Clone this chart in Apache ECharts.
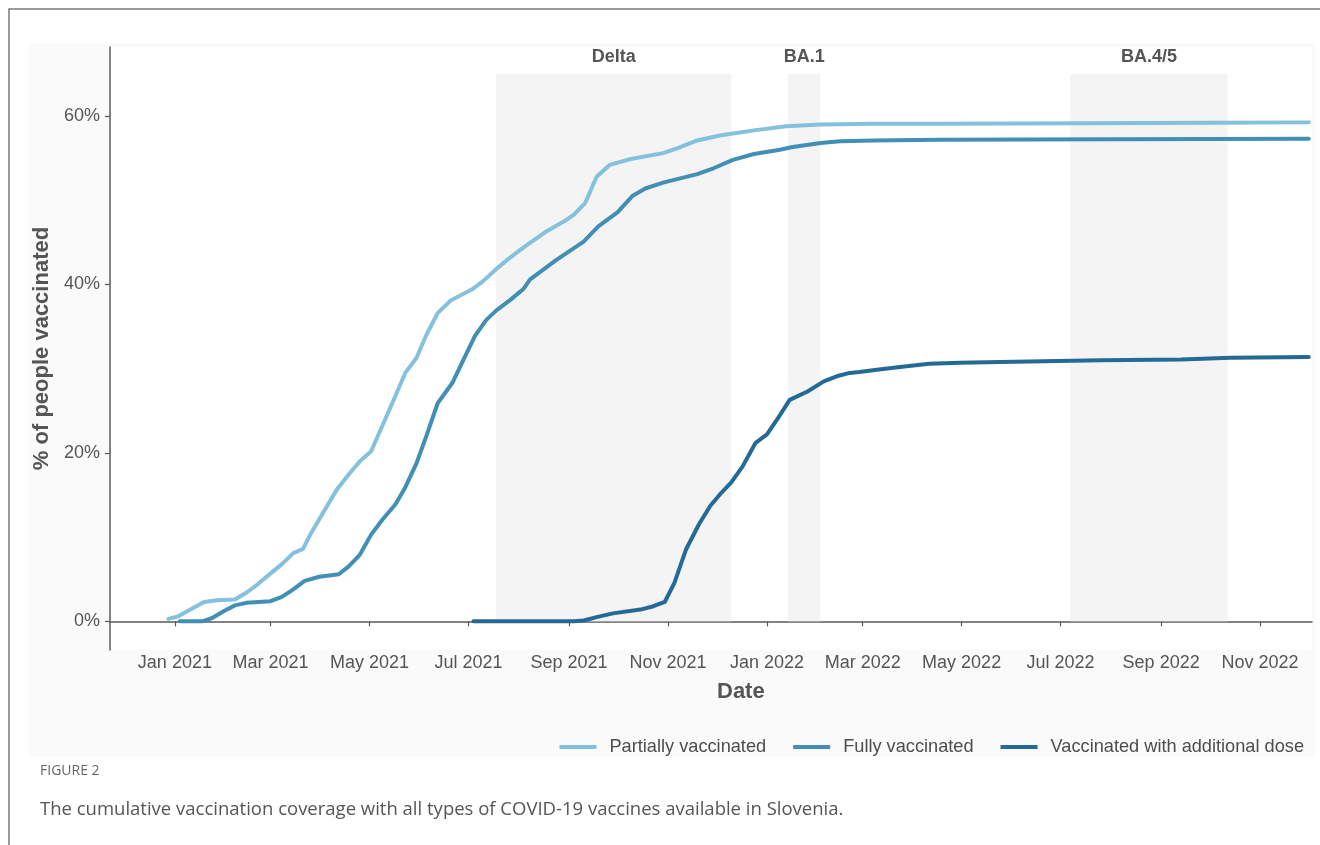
<!DOCTYPE html>
<html>
<head>
<meta charset="utf-8">
<script src="https://cdn.jsdelivr.net/npm/echarts@6/dist/echarts.min.js"></script>
<style>
  html, body { margin: 0; padding: 0; background: #fff; }
  #container { width: 1320px; height: 845px; }
</style>
</head>
<body>
<div id="container"></div>
<script>
// values (% of population)
var partially = [
  ['2020-12-28', 0.3], ['2021-01-03', 0.6], ['2021-01-19', 2.3], ['2021-01-27', 2.5],
  ['2021-02-07', 2.6], ['2021-02-14', 3.4], ['2021-02-21', 4.4], ['2021-03-01', 5.7],
  ['2021-03-08', 6.8], ['2021-03-15', 8.1], ['2021-03-21', 8.6], ['2021-03-26', 10.5],
  ['2021-04-03', 13.1], ['2021-04-11', 15.7], ['2021-04-18', 17.4], ['2021-04-25', 19.0],
  ['2021-05-02', 20.2], ['2021-05-07', 22.4], ['2021-05-15', 25.9], ['2021-05-23', 29.5],
  ['2021-05-30', 31.3], ['2021-06-05', 34.0], ['2021-06-12', 36.6], ['2021-06-20', 38.1],
  ['2021-07-03', 39.4], ['2021-07-10', 40.4], ['2021-07-18', 41.8], ['2021-07-26', 43.1],
  ['2021-08-04', 44.4], ['2021-08-18', 46.3], ['2021-08-29', 47.5], ['2021-09-04', 48.3],
  ['2021-09-11', 49.7], ['2021-09-18', 52.8], ['2021-09-26', 54.2], ['2021-10-09', 54.9],
  ['2021-10-29', 55.6], ['2021-11-07', 56.2], ['2021-11-19', 57.1], ['2021-12-03', 57.7],
  ['2021-12-24', 58.3], ['2022-01-13', 58.8], ['2022-02-03', 59.0], ['2022-03-08', 59.1],
  ['2022-04-18', 59.1], ['2022-07-15', 59.15], ['2022-10-01', 59.2], ['2022-12-01', 59.25]
];
var fully = [
  ['2021-01-04', 0], ['2021-01-18', 0], ['2021-01-24', 0.4], ['2021-01-31', 1.2],
  ['2021-02-07', 1.9], ['2021-02-14', 2.2], ['2021-03-01', 2.4], ['2021-03-08', 2.9],
  ['2021-03-15', 3.8], ['2021-03-22', 4.8], ['2021-03-31', 5.3], ['2021-04-12', 5.6],
  ['2021-04-18', 6.5], ['2021-04-25', 7.9], ['2021-05-02', 10.3], ['2021-05-09', 12.1],
  ['2021-05-17', 13.9], ['2021-05-23', 15.9], ['2021-05-30', 18.8], ['2021-06-05', 22.0],
  ['2021-06-12', 25.9], ['2021-06-21', 28.3], ['2021-06-28', 31.1], ['2021-07-05', 33.9],
  ['2021-07-12', 35.8], ['2021-07-18', 36.9], ['2021-07-27', 38.2], ['2021-08-04', 39.5],
  ['2021-08-08', 40.6], ['2021-08-24', 42.9], ['2021-09-10', 45.1], ['2021-09-19', 46.9],
  ['2021-10-01', 48.6], ['2021-10-10', 50.5], ['2021-10-18', 51.4], ['2021-10-29', 52.1],
  ['2021-11-19', 53.1], ['2021-11-29', 53.8], ['2021-12-11', 54.8], ['2021-12-24', 55.5],
  ['2022-01-09', 56.0], ['2022-01-16', 56.3], ['2022-02-03', 56.8], ['2022-02-15', 57.0],
  ['2022-03-08', 57.1], ['2022-04-18', 57.2], ['2022-08-01', 57.25], ['2022-12-01', 57.3]
];
var additional = [
  ['2021-07-04', 0], ['2021-09-04', 0], ['2021-09-10', 0.1], ['2021-09-18', 0.5],
  ['2021-09-28', 0.95], ['2021-10-15', 1.4], ['2021-10-23', 1.8], ['2021-10-30', 2.3],
  ['2021-11-05', 4.6], ['2021-11-12', 8.5], ['2021-11-20', 11.5], ['2021-11-27', 13.7],
  ['2021-12-04', 15.3], ['2021-12-10', 16.5], ['2021-12-17', 18.4], ['2021-12-25', 21.2],
  ['2022-01-01', 22.2], ['2022-01-08', 24.2], ['2022-01-15', 26.3], ['2022-01-26', 27.3],
  ['2022-02-05', 28.5], ['2022-02-13', 29.1], ['2022-02-21', 29.5], ['2022-02-27', 29.6],
  ['2022-03-11', 29.9], ['2022-03-24', 30.2], ['2022-04-11', 30.6], ['2022-04-30', 30.7],
  ['2022-05-25', 30.8], ['2022-07-26', 31.0], ['2022-09-13', 31.1], ['2022-10-14', 31.3],
  ['2022-12-01', 31.4]
];

// variant periods
var variants = [
  { name: 'Delta', start: '2021-07-18', end: '2021-12-10' },
  { name: 'BA.1', start: '2022-01-14', end: '2022-02-03' },
  { name: 'BA.4/5', start: '2022-07-07', end: '2022-10-12' }
];

var yTicks = [0, 20, 40, 60];
var xTicks = ['2021-01-01', '2021-03-01', '2021-05-01', '2021-07-01', '2021-09-01', '2021-11-01',
              '2022-01-01', '2022-03-01', '2022-05-01', '2022-07-01', '2022-09-01', '2022-11-01'];
var months = ['Jan','Feb','Mar','Apr','May','Jun','Jul','Aug','Sep','Oct','Nov','Dec'];

function ts(s) { return new Date(s + 'T00:00:00').getTime(); }
function toPoints(arr) { return arr.map(function (p) { return [ts(p[0]), p[1]]; }); }

var font = '"Liberation Sans", Arial, Helvetica, sans-serif';
var grey = '#555555';

var dom = document.getElementById('container');
var myChart = echarts.init(dom, null, { renderer: 'canvas' });

var option = {
  animation: false,
  backgroundColor: '#ffffff',
  textStyle: { fontFamily: font },
  graphic: [
    { type: 'rect', z: -10, silent: true,
      shape: { x: 9, y: 9, width: 1400, height: 900 },
      style: { fill: '#ffffff', stroke: '#7a7a7a', lineWidth: 1.5 } },
    { type: 'rect', z: -9, silent: true,
      shape: { x: 29, y: 43, width: 1286, height: 714 },
      style: { fill: '#fafafa' } },
    { type: 'text', left: 717, top: 681,
      style: { text: 'Date', fill: grey, font: 'bold 22px ' + font } },
    { type: 'text', left: 40, top: 764,
      style: { text: 'FIGURE 2', fill: '#666', font: '14px "Open Sans", ' + font } },
    { type: 'text', left: 40, top: 800,
      style: { text: 'The cumulative vaccination coverage with all types of COVID-19 vaccines available in Slovenia.',
               fill: '#555', font: '18.5px "Open Sans", ' + font } }
  ],
  grid: {
    left: 110, right: 8, top: 47, bottom: 195,
    show: true, backgroundColor: '#ffffff', borderWidth: 0
  },
  legend: {
    right: 11, top: 733,
    icon: 'rect', itemWidth: 37, itemHeight: 4, itemGap: 27,
    textStyle: { fontSize: 18.2, color: '#4d4d4d', fontFamily: font, padding: [0, 0, 0, 8] },
    data: ['Partially vaccinated', 'Fully vaccinated', 'Vaccinated with additional dose']
  },
  xAxis: {
    type: 'value',
    min: ts('2020-11-22'), max: ts('2022-12-03'),
    axisLine: { lineStyle: { color: '#5b5b5b', width: 1.5 } },
    axisTick: { show: true, length: 5, lineStyle: { color: '#5b5b5b', width: 1.2 },
                customValues: xTicks.map(ts) },
    axisLabel: { fontSize: 18, color: grey, margin: 4, hideOverlap: false,
                 customValues: xTicks.map(ts),
                 formatter: function (v) { var d = new Date(v); return months[d.getMonth()] + ' ' + d.getFullYear(); } },
    splitLine: { show: false }
  },
  yAxis: {
    type: 'value',
    min: -3.4, max: 68.2,
    name: '% of people vaccinated', nameLocation: 'middle', nameGap: 55,
    nameTextStyle: { fontSize: 22, fontWeight: 'bold', color: grey },
    axisLine: { show: true, lineStyle: { color: '#5b5b5b', width: 1.5 } },
    axisTick: { show: true, length: 5, lineStyle: { color: '#5b5b5b', width: 1.2 }, customValues: yTicks },
    axisLabel: { fontSize: 18, color: grey, margin: 10, customValues: yTicks,
                 formatter: function (v) { return v + '%'; } },
    splitLine: { show: false }
  },
  series: [
    {
      name: 'Partially vaccinated', type: 'line', data: toPoints(partially),
      showSymbol: false, smooth: false,
      lineStyle: { width: 4, color: '#84c1dc', join: 'round', cap: 'round' }, itemStyle: { color: '#84c1dc' },
      z: 3,
      markArea: {
        silent: true,
        itemStyle: { color: '#f4f4f4' },
        label: { show: true, position: 'top', distance: 8, fontSize: 18, fontWeight: 'bold', color: grey },
        data: variants.map(function (v) {
          return [{ name: v.name, xAxis: ts(v.start), yAxis: 0 }, { xAxis: ts(v.end), yAxis: 65 }];
        })
      }
    },
    {
      name: 'Fully vaccinated', type: 'line', data: toPoints(fully),
      showSymbol: false, smooth: false,
      lineStyle: { width: 4, color: '#418fb4', join: 'round', cap: 'round' }, itemStyle: { color: '#418fb4' },
      z: 3
    },
    {
      name: 'Vaccinated with additional dose', type: 'line', data: toPoints(additional),
      showSymbol: false, smooth: false,
      lineStyle: { width: 4, color: '#236a96', join: 'round', cap: 'round' }, itemStyle: { color: '#236a96' },
      z: 3
    }
  ]
};

myChart.setOption(option);
</script>
</body>
</html>
